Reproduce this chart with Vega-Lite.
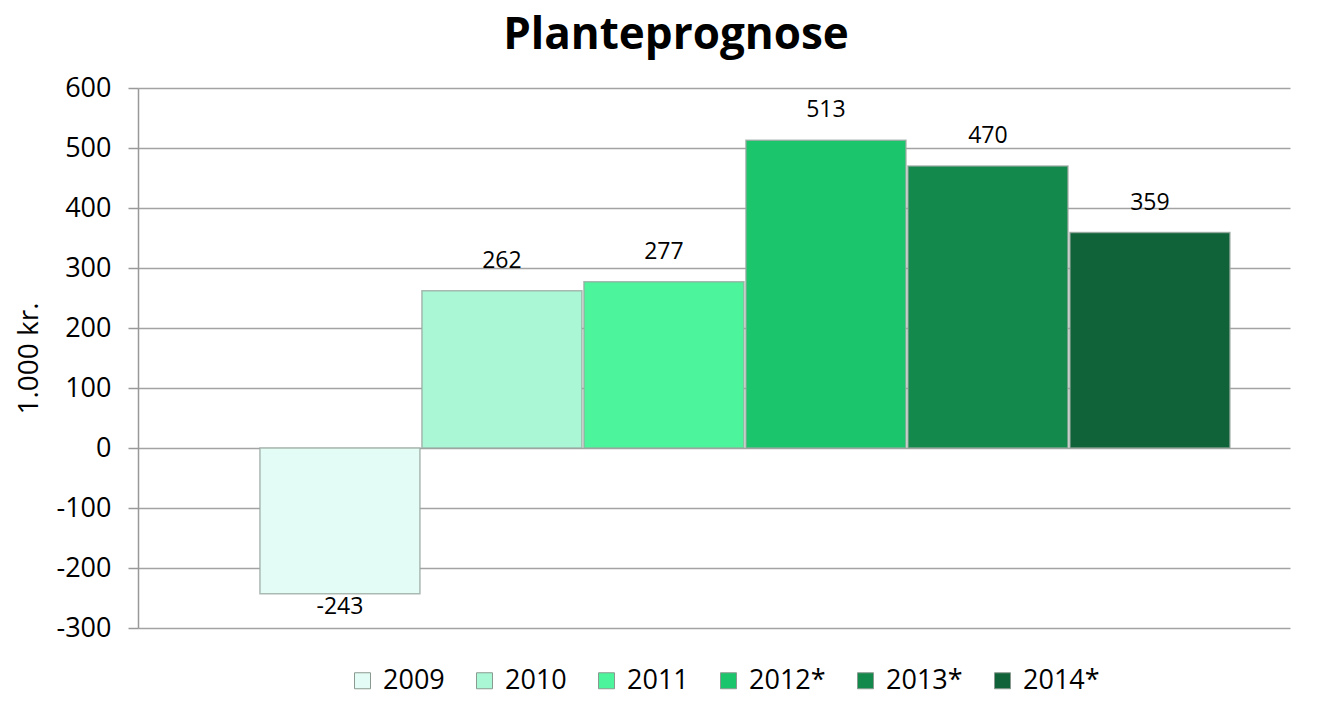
{
  "$schema": "https://vega.github.io/schema/vega-lite/v6.json",
  "autosize": "none",
  "width": 1152,
  "height": 540,
  "padding": {"left": 138, "top": 88, "right": 44, "bottom": 86},
  "background": "white",
  "title": {"text": "Planteprognose", "fontSize": 44, "fontWeight": "bold", "font": "Open Sans", "color": "#000000", "anchor": "middle", "dx": -38, "offset": 16},
  "data": {"values": [
    {"year": "2009", "value": -243},
    {"year": "2010", "value": 262},
    {"year": "2011", "value": 277},
    {"year": "2012*", "value": 513},
    {"year": "2013*", "value": 470},
    {"year": "2014*", "value": 359}
  ]},
  "config": {"view": {"stroke": null}, "font": "Open Sans"},
  "encoding": {
    "x": {"field": "year", "type": "nominal", "sort": null,
      "scale": {"paddingInner": 0.01235, "paddingOuter": 0.5617, "align": 0.670},
      "axis": null},
    "y": {"field": "value", "type": "quantitative",
      "scale": {"domain": [-300, 600], "nice": false, "zero": false},
      "axis": {"values": [-300, -200, -100, 0, 100, 200, 300, 400, 500, 600], "title": "1.000 kr.",
        "labelExpr": "replace(datum.label, '\u2212', '-')",
        "titleFontSize": 28, "titleFontWeight": "normal", "titleColor": "#000", "titlePadding": 12,
        "labelFontSize": 27, "labelColor": "#000", "labelPadding": 17,
        "tickSize": 10, "tickColor": "#999", "tickWidth": 1.5, "domainColor": "#999", "domainWidth": 1.5,
        "grid": true, "gridColor": "#a3a3a3", "gridWidth": 1.5}}
  },
  "layer": [
    {"mark": {"type": "bar", "stroke": "#9aa8a0", "strokeWidth": 1.5, "strokeOpacity": 0.8},
     "encoding": {
       "y2": {"datum": 0},
       "color": {"field": "year", "type": "nominal", "sort": null,
         "scale": {"range": ["#e3fcf5", "#aaf7d6", "#4cf59b", "#1bc56c", "#138a4b", "#106238"]},
         "legend": {"orient": "none", "legendX": 211, "legendY": 579, "direction": "horizontal", "title": null,
           "symbolType": "square", "symbolSize": 256, "symbolStrokeWidth": 1, "symbolStrokeColor": "#8a9a90",
           "labelFontSize": 27, "labelColor": "#000", "columnPadding": 26, "labelOffset": 7}}
     }},
    {"transform": [{"filter": "datum.value >= 0"}],
     "mark": {"type": "text", "baseline": "bottom", "dy": -18, "fontSize": 23, "color": "#000"},
     "encoding": {"text": {"field": "value", "type": "nominal"}}},
    {"transform": [{"filter": "datum.value < 0"}],
     "mark": {"type": "text", "baseline": "top", "dy": 2, "fontSize": 23, "color": "#000"},
     "encoding": {"text": {"field": "value", "type": "nominal"}}}
  ]
}
